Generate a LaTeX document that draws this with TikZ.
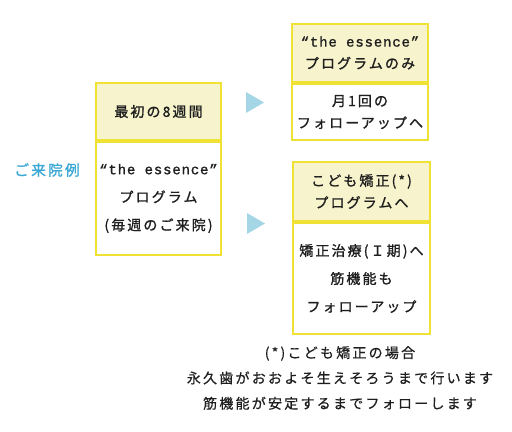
\documentclass[tikz,border=0pt]{standalone}
\usepackage{fontspec}
\setmainfont{Noto Sans CJK JP}[LetterSpace=16]
\newfontfamily\jpbox{Noto Sans CJK JP}[LetterSpace=15, FakeBold=1.2]
\newfontfamily\jpnote{Noto Sans CJK JP}[LetterSpace=16, FakeBold=0.6]
\newfontfamily\jpmono{Liberation Mono}[LetterSpace=6, FakeBold=1.2]
\usetikzlibrary{positioning}

\definecolor{boxline}{HTML}{F0E234}
\definecolor{boxhead}{HTML}{F7F3CC}
\definecolor{arrowblue}{HTML}{A4D6E6}
\definecolor{labelblue}{HTML}{3AA8D4}
\definecolor{ink}{HTML}{1E1E1E}

\begin{document}
\begin{tikzpicture}[
    x=0.75pt, y=-0.75pt,
    head/.style={rectangle, draw=boxline, fill=boxhead, line width=1.5pt, inner sep=0pt, align=center, text=ink, font=\jpbox\fontsize{10.5}{16.5}\selectfont},
    body/.style={rectangle, draw=boxline, fill=white, line width=1.5pt, inner sep=0pt, align=center, text=ink, font=\jpbox\fontsize{10.5}{16.5}\selectfont},
    note/.style={font=\jpnote\fontsize{10.5}{19}\selectfont, align=center, text=ink},
    tri/.style={fill=arrowblue}
]
\useasboundingbox (0,0) rectangle (512,432);

% Left: first 8 weeks
\node[head, minimum width=93.75pt, minimum height=42.75pt] (first) at (158.5,111.5) {最初の8週間};
\node[body, minimum width=93.75pt, minimum height=84.75pt, below=0pt of first, font=\jpbox\fontsize{10.5}{21}\selectfont] (weekly)
    {{\jpmono “the essence”}\\プログラム\\(毎週のご来院)};
\node[font=\jpbox\fontsize{11}{13}\selectfont, text=labelblue] (example) at (47,170) {ご来院例};

% Top right: essence only
\node[head, minimum width=102pt, minimum height=43.5pt] (only) at (360,53)
    {{\jpmono “the essence”}\\プログラムのみ};
\node[body, minimum width=102pt, minimum height=42pt, below=0pt of only] (monthly)
    {月1回の\\フォローアップへ};

% Bottom right: kids orthodontics
\node[head, minimum width=102.75pt, minimum height=44.25pt] (kids) at (361.5,191.5)
    {こども矯正(*)\\プログラムへ};
\node[body, minimum width=102.75pt, minimum height=83.25pt, below=0pt of kids, font=\jpbox\fontsize{10.5}{21}\selectfont] (follow)
    {矯正治療(Ｉ期)へ\\筋機能も\\フォローアップ};

% Arrows
\fill[tri] (246,92) -- ++(18,10.5) -- ++(-18,10.5) -- cycle;
\fill[tri] (247,213) -- ++(18,10.5) -- ++(-18,10.5) -- cycle;

% Footnote
\node[note] (footnote) at (340,378)
    {(*)こども矯正の場合\\永久歯がおおよそ生えそろうまで行います\\筋機能が安定するまでフォローします};

\end{tikzpicture}
\end{document}
